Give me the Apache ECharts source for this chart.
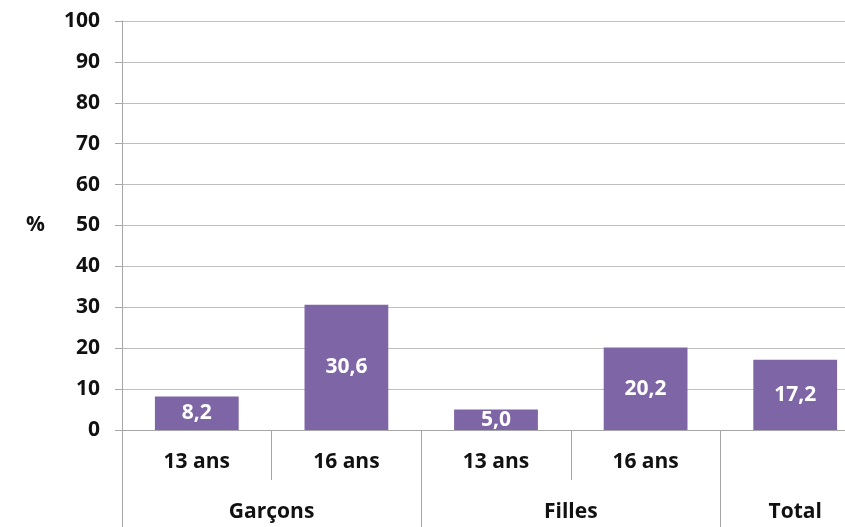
<!DOCTYPE html>
<html>
<head>
<meta charset="utf-8">
<script src="https://cdn.jsdelivr.net/npm/echarts@6/dist/echarts.min.js"></script>
<style>html,body{margin:0;padding:0;background:#fff}#c{width:845px;height:527px}</style>
</head>
<body>
<div id="c"></div>
<script>
const categories = ['13 ans', '16 ans', '13 ans', '16 ans', ''];
const groups = ['Garçons', 'Filles', 'Total'];
const groupBounds = [0, 2, 4];
const groupCenters = [1, 3, 4.5];
const values = [8.2, 30.6, 5.0, 20.2, 17.2];
const yTicks = [0, 10, 20, 30, 40, 50, 60, 70, 80, 90, 100];

const FONT = 'Open Sans';
const chart = echarts.init(document.getElementById('c'));
chart.setOption({
  animation: false,
  grid: { left: 122, width: 748, top: 21, bottom: 97, containLabel: false, outerBoundsMode: 'none' },
  xAxis: [
    {
      type: 'category',
      data: categories,
      boundaryGap: true,
      axisLine: { show: true, lineStyle: { color: '#A6A6A6', width: 1 } },
      axisTick: { show: true, interval: 0, length: 50, lineStyle: { color: '#A6A6A6' } },
      axisLabel: { interval: 0, margin: 22, color: '#111', fontFamily: FONT, fontWeight: 'bold', fontSize: 21 }
    },
    {
      type: 'value',
      position: 'bottom',
      min: 0, max: 5,
      splitLine: { show: false },
      axisLine: { show: false },
      axisTick: { show: true, length: 97, customValues: groupBounds, lineStyle: { color: '#A6A6A6' } },
      axisLabel: {
        show: true, customValues: groupCenters, margin: 72,
        color: '#111', fontFamily: FONT, fontWeight: 'bold', fontSize: 21,
        formatter: function (v) { const i = groupCenters.indexOf(v); return i >= 0 ? groups[i] : ''; }
      }
    }
  ],
  yAxis: {
    type: 'value',
    min: 0, max: 100, interval: 10,
    name: '%',
    nameLocation: 'middle',
    nameRotate: 0,
    nameGap: 77,
    nameTextStyle: { color: '#111', fontFamily: FONT, fontWeight: 'bold', fontSize: 21 },
    axisLine: { show: true, lineStyle: { color: '#A6A6A6' } },
    axisTick: { show: true, length: 7, lineStyle: { color: '#A6A6A6' } },
    splitLine: { show: true, lineStyle: { color: '#BFBFBF', width: 1 } },
    axisLabel: {
      margin: 22, color: '#111', fontFamily: FONT, fontWeight: 'bold', fontSize: 21,
      formatter: function (v) { return yTicks.indexOf(v) >= 0 ? String(v) : ''; }
    }
  },
  series: [{
    type: 'bar',
    data: values,
    xAxisIndex: 0,
    barWidth: '56%',
    itemStyle: { color: '#7E65A6' },
    label: {
      show: true, position: 'inside', color: '#fff',
      fontFamily: FONT, fontWeight: 'bold', fontSize: 21,
      formatter: function (p) { return p.value.toFixed(1).replace('.', ','); }
    }
  }]
});
</script>
</body>
</html>
